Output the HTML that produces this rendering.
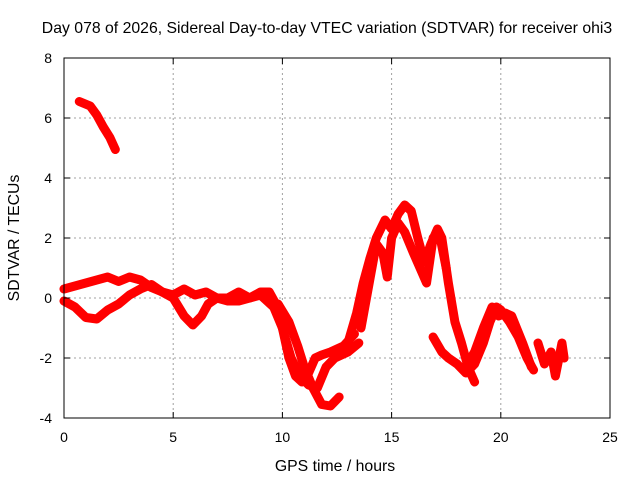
<!DOCTYPE html>
<html><head><meta charset="utf-8"><style>
body{margin:0;background:#fff}
svg text{font-family:"Liberation Sans",sans-serif;font-size:14px;fill:#000}
svg text.big{font-size:15.8px}
</style></head><body>
<svg id="chart" width="640" height="480">
<rect x="0" y="0" width="640" height="480" fill="#fff"/>
<g id="grid"></g>
<g id="series"></g>
<rect x="64" y="58" width="546" height="360" fill="none" stroke="#000" stroke-width="1"/>
<g id="ticks"></g>
<text class="big" x="327" y="33" text-anchor="middle">Day 078 of 2026, Sidereal Day-to-day VTEC variation (SDTVAR) for receiver ohi3</text>
<text class="big" x="335" y="471" text-anchor="middle">GPS time / hours</text>
<text class="big" x="19" y="238" text-anchor="middle" transform="rotate(-90 19 238)">SDTVAR / TECUs</text>
</svg>
<script>
const xTicks=[0,5,10,15,20,25];
const yTicks=[-4,-2,0,2,4,6,8];
const track1=[[0.7,6.55],[1.2,6.4],[1.5,6.1],[1.8,5.7],[2.1,5.35],[2.35,4.95]];
const track2=[[0,0.3],[0.5,0.4],[1,0.5],[1.5,0.6],[2,0.7],[2.5,0.55],[3,0.7],[3.5,0.6],[4,0.35],[4.5,0.2],[5,0.1],[5.5,0.3],[6,0.1],[6.5,0.2],[7,0.0],[7.5,0.0],[8,0.2],[8.5,0.0],[9,0.2],[9.4,0.2],[9.7,-0.2],[10,-1.0],[10.3,-2.0],[10.6,-2.6],[10.9,-2.8],[11.2,-2.5],[11.5,-2.0],[11.8,-1.9],[12.2,-1.8],[12.8,-1.6],[13.3,-1.2]];
const track3=[[0,-0.1],[0.5,-0.3],[1,-0.65],[1.5,-0.7],[2,-0.4],[2.5,-0.2],[3,0.1],[3.5,0.3],[4,0.45],[4.5,0.2],[5,0.0],[5.5,-0.6],[5.9,-0.9],[6.3,-0.6],[6.6,-0.2],[7,0.0],[7.5,-0.1],[8,-0.1],[8.5,0.0],[9,0.1],[9.6,-0.3],[10,-1.0],[10.4,-2.0],[10.8,-2.6],[11.2,-2.9],[11.6,-3.0],[12,-2.3],[12.4,-2.0],[13,-1.8],[13.5,-1.5]];
const track4=[[9.8,-0.2],[10.3,-0.8],[10.7,-1.6],[11,-2.3],[11.4,-3.0],[11.8,-3.55],[12.2,-3.6],[12.6,-3.3]];
const track5=[[12.5,-1.8],[13,-1.5],[13.4,-0.5],[13.7,0.5],[14,1.3],[14.3,2.0],[14.7,2.6],[15,2.3],[15.3,2.8],[15.6,3.1],[15.9,2.9],[16.2,2.0],[16.5,1.2],[16.8,1.8],[17.1,2.3],[17.3,2.0],[17.6,0.5],[17.9,-0.8],[18.2,-1.5],[18.5,-2.3],[18.8,-2.8]];
const track6=[[13.6,-1.0],[14.0,0.6],[14.3,1.8],[14.6,1.5],[14.8,0.7],[15.0,2.0],[15.3,2.5],[15.6,2.2],[16,1.5],[16.3,1.0],[16.6,0.5],[16.9,2.0],[17.2,2.1],[17.5,1.0]];
const track7=[[16.9,-1.3],[17.3,-1.8],[17.6,-2.0],[18,-2.2],[18.4,-2.5],[18.8,-2.2],[19.2,-1.5],[19.5,-0.8],[19.8,-0.3],[20,-0.4],[20.4,-0.8],[20.8,-1.3],[21.2,-2.0],[21.5,-2.4]];
const track8=[[18.3,-2.4],[18.8,-1.8],[19.2,-1.0],[19.6,-0.3],[19.9,-0.6],[20.2,-0.5],[20.5,-0.6],[21,-1.5],[21.4,-2.3]];
const track9=[[21.7,-1.5],[22,-2.2],[22.3,-1.8],[22.5,-2.6],[22.8,-1.5],[22.9,-2.0]];
const tracks=[track1,track2,track3,track4,track5,track6,track7,track8,track9];
const NS='http://www.w3.org/2000/svg';
function xs(v){return 64+(v-0)/25*546;}
function ys(v){return 418-(v+4)/12*360;}
const grid=document.getElementById('grid'),ticks=document.getElementById('ticks'),ser=document.getElementById('series');
function mk(tag,attrs,parent){const e=document.createElementNS(NS,tag);for(const k in attrs)e.setAttribute(k,attrs[k]);parent.appendChild(e);return e;}
xTicks.forEach(t=>{
  const x=xs(t);
  if(t>0&&t<25){const g=mk('line',{x1:x,x2:x,y1:58,y2:418,stroke:'#a0a0a0','stroke-dasharray':'2,3'},grid);
  
  }
  const a=mk('line',{x1:x,x2:x,y1:418,y2:412,stroke:'#000'},ticks);
  
  
  const b=mk('line',{x1:x,x2:x,y1:58,y2:64,stroke:'#000'},ticks);
  
  
  const l=mk('text',{x:x,y:442,'text-anchor':'middle'},ticks);l.textContent=t;
  
  
});
yTicks.forEach(t=>{
  const y=ys(t);
  if(t>-4&&t<8){const g=mk('line',{x1:64,x2:610,y1:y,y2:y,stroke:'#a0a0a0','stroke-dasharray':'2,3'},grid);
  
  }
  const a=mk('line',{x1:64,x2:70,y1:y,y2:y,stroke:'#000'},ticks);
  
  
  const b=mk('line',{x1:604,x2:610,y1:y,y2:y,stroke:'#000'},ticks);
  
  
  const l=mk('text',{x:52,y:y+5,'text-anchor':'end'},ticks);l.textContent=t;
  
  
});
tracks.forEach(tr=>{
  const p=mk('polyline',{points:tr.map(d=>xs(d[0])+','+ys(d[1])).join(' '),fill:'none',stroke:'#ff0000','stroke-width':9,'stroke-linejoin':'round','stroke-linecap':'round'},ser);
  
  
});
</script>
</body></html>
